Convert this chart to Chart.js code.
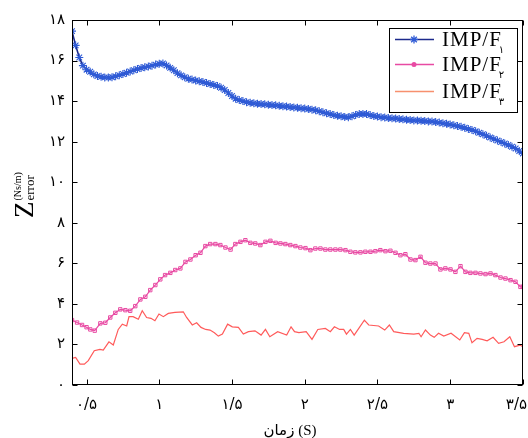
<!DOCTYPE html>
<html><head><meta charset="utf-8">
<script src="https://cdn.jsdelivr.net/npm/chart.js@4.4.1/dist/chart.umd.min.js"></script>
<style>html,body{margin:0;padding:0;background:#fff;overflow:hidden}</style>
</head><body>
<canvas id="c" width="528" height="438"></canvas>
<script>
// ---- data ----
const blueTime=[0.4,0.425,0.45,0.475,0.5,0.525,0.55,0.575,0.6,0.625,0.65,0.675,0.7,0.725,0.75,0.775,0.8,0.825,0.85,0.875,0.9,0.925,0.95,0.975,1.0,1.025,1.05,1.075,1.1,1.125,1.15,1.175,1.2,1.225,1.25,1.275,1.3,1.325,1.35,1.375,1.4,1.425,1.45,1.475,1.5,1.525,1.55,1.575,1.6,1.625,1.65,1.675,1.7,1.725,1.75,1.775,1.8,1.825,1.85,1.875,1.9,1.925,1.95,1.975,2.0,2.025,2.05,2.075,2.1,2.125,2.15,2.175,2.2,2.225,2.25,2.275,2.3,2.325,2.35,2.375,2.4,2.425,2.45,2.475,2.5,2.525,2.55,2.575,2.6,2.625,2.65,2.675,2.7,2.725,2.75,2.775,2.8,2.825,2.85,2.875,2.9,2.925,2.95,2.975,3.0,3.025,3.05,3.075,3.1,3.125,3.15,3.175,3.2,3.225,3.25,3.275,3.3,3.325,3.35,3.375,3.4,3.425,3.45,3.475,3.5];
const blueValue=[17.45,16.75,16.15,15.75,15.55,15.45,15.32,15.24,15.2,15.17,15.16,15.18,15.22,15.28,15.34,15.4,15.46,15.52,15.58,15.63,15.67,15.71,15.75,15.8,15.84,15.86,15.76,15.64,15.52,15.38,15.27,15.18,15.1,15.06,15.02,14.98,14.94,14.89,14.84,14.8,14.75,14.66,14.55,14.4,14.25,14.12,14.05,14.0,13.95,13.92,13.89,13.87,13.86,13.84,13.82,13.81,13.79,13.77,13.75,13.73,13.71,13.69,13.67,13.65,13.63,13.61,13.58,13.55,13.5,13.45,13.4,13.36,13.31,13.28,13.25,13.22,13.21,13.25,13.32,13.36,13.37,13.36,13.31,13.27,13.24,13.21,13.19,13.17,13.15,13.14,13.12,13.1,13.08,13.07,13.05,13.04,13.03,13.02,13.0,12.99,12.97,12.94,12.91,12.88,12.85,12.81,12.77,12.73,12.69,12.63,12.58,12.51,12.44,12.37,12.29,12.21,12.13,12.06,11.98,11.91,11.84,11.75,11.66,11.54,11.42];

const pinkTime=[0.4,0.435,0.469,0.5,0.526,0.556,0.595,0.629,0.663,0.698,0.732,0.767,0.8,0.835,0.87,0.904,0.938,0.973,1.007,1.04,1.076,1.11,1.145,1.18,1.214,1.25,1.283,1.317,1.35,1.386,1.42,1.455,1.49,1.523,1.558,1.592,1.626,1.66,1.695,1.73,1.764,1.8,1.833,1.867,1.901,1.936,1.97,2.005,2.039,2.073,2.108,2.142,2.176,2.211,2.245,2.28,2.314,2.348,2.383,2.417,2.452,2.486,2.52,2.555,2.589,2.624,2.658,2.692,2.727,2.761,2.796,2.83,2.864,2.899,2.933,2.967,3.002,3.036,3.071,3.105,3.139,3.174,3.208,3.243,3.277,3.311,3.346,3.38,3.415,3.449,3.483,3.5];
const pinkValue=[3.2,3.08,2.96,2.85,2.74,2.68,3.04,3.07,3.33,3.56,3.73,3.69,3.66,3.89,4.22,4.35,4.68,4.93,5.21,5.42,5.53,5.67,5.75,6.07,6.19,6.4,6.52,6.85,6.95,6.95,6.9,6.78,6.68,6.95,7.06,7.14,7.01,6.98,6.9,7.06,7.11,7.01,6.98,6.95,6.9,6.85,6.78,6.75,6.65,6.73,6.73,6.68,6.68,6.68,6.68,6.65,6.57,6.54,6.54,6.57,6.57,6.6,6.65,6.6,6.62,6.52,6.4,6.45,6.19,6.16,6.32,6.03,5.99,5.99,5.7,5.75,5.7,5.58,5.86,5.58,5.53,5.53,5.5,5.47,5.5,5.42,5.3,5.25,5.17,5.09,4.84,4.84];

const redTime=[0.4,0.425,0.455,0.485,0.512,0.553,0.592,0.615,0.654,0.684,0.718,0.746,0.776,0.792,0.82,0.856,0.883,0.913,0.943,0.97,0.998,1.028,1.062,1.108,1.165,1.188,1.227,1.257,1.287,1.319,1.349,1.379,1.406,1.434,1.47,1.502,1.544,1.578,1.613,1.658,1.7,1.73,1.76,1.814,1.876,1.906,1.93,1.96,2.01,2.05,2.09,2.142,2.176,2.204,2.24,2.268,2.287,2.314,2.34,2.41,2.44,2.508,2.55,2.582,2.612,2.68,2.75,2.785,2.8,2.83,2.864,2.89,2.92,2.956,3.006,3.066,3.098,3.128,3.15,3.185,3.22,3.254,3.295,3.333,3.37,3.41,3.442,3.48,3.5];
const redValue=[1.31,1.36,1.03,1.03,1.2,1.69,1.76,1.72,2.13,1.97,2.74,3.0,2.91,3.37,3.37,3.24,3.66,3.33,3.29,3.17,3.5,3.37,3.53,3.58,3.61,3.33,2.96,3.07,2.84,2.74,2.71,2.58,2.41,2.51,3.0,2.87,2.84,2.51,2.63,2.67,2.46,2.74,2.38,2.63,2.46,2.87,2.63,2.58,2.63,2.25,2.74,2.79,2.63,2.87,2.74,2.74,2.51,2.74,2.46,3.2,2.96,2.91,2.71,2.96,2.63,2.55,2.51,2.55,2.38,2.71,2.46,2.35,2.55,2.41,2.55,2.22,2.58,2.55,2.08,2.3,2.25,2.18,2.35,2.05,2.13,2.38,1.89,1.97,1.89];

const seriesNames=['IMP/F','IMP/F','IMP/F'];
const seriesSubs=['۱','۲','۳'];
const xTickValues=[0.5,1,1.5,2,2.5,3,3.5];
const xTickLabels=['۰/۵','۱','۱/۵','۲','۲/۵','۳','۳/۵'];
const yTickValues=[0,2,4,6,8,10,12,14,16,18];
const yTickLabels=['۰','۲','۴','۶','۸','۱۰','۱۲','۱۴','۱۶','۱۸'];
const xTitle='زمان (S)';

const pts=(t,v)=>t.map((x,i)=>({x:x,y:v[i]}));
const COLORS={blueLine:'#1c2a8c',blueMark:'#2f5bd6',pink:'#e84aa3',red:'#ff5a5a',redLegend:'#f7906e'};

const deco={
  id:'deco',
  afterDatasetsDraw(chart){
    const {ctx,chartArea:a,scales:{x,y}}=chart;
    const L=Math.round(a.left)+0.5,R=Math.round(a.right)-0.5,T=Math.round(a.top)+0.5,B=Math.round(a.bottom)-0.5;
    ctx.save();
    ctx.strokeStyle='#000';ctx.lineWidth=1;
    ctx.strokeRect(L,T,R-L,B-T);
    ctx.beginPath();
    const tl=5;
    xTickValues.forEach(v=>{const px=Math.round(x.getPixelForValue(v))+0.5;ctx.moveTo(px,B);ctx.lineTo(px,B-tl);ctx.moveTo(px,T);ctx.lineTo(px,T+tl);});
    yTickValues.forEach(v=>{const py=Math.round(y.getPixelForValue(v))+0.5;ctx.moveTo(L,py);ctx.lineTo(L+tl,py);ctx.moveTo(R,py);ctx.lineTo(R-tl,py);});
    ctx.stroke();
    // x tick labels
    ctx.fillStyle='#000';ctx.font='15px "DejaVu Sans"';ctx.textAlign='center';ctx.textBaseline='middle';
    xTickValues.forEach((v,i)=>{const w=ctx.measureText(xTickLabels[i]).width;let px=x.getPixelForValue(v);px=Math.min(px,chart.width-w/2-1);ctx.fillText(xTickLabels[i],px,405);});
    // x title
    ctx.font='15px "Liberation Serif","DejaVu Sans"';ctx.direction='ltr';
    ctx.fillText(xTitle,290,431);
    // y title
    ctx.save();ctx.translate(33,218);ctx.rotate(-Math.PI/2);
    ctx.textAlign='left';ctx.textBaseline='alphabetic';
    ctx.font='27px "Liberation Serif"';ctx.fillText('Z',0,0);
    const zw=ctx.measureText('Z').width;
    ctx.font='13px "Liberation Serif"';ctx.fillText('error',zw+1,1);
    ctx.font='10px "Liberation Serif"';ctx.fillText('(Ns/m)',zw+1,-12);
    ctx.restore();
    // legend
    ctx.fillStyle='#fff';ctx.fillRect(389,28,128,84);
    ctx.strokeStyle='#000';ctx.lineWidth=1;ctx.strokeRect(389.5,28.5,128,84);
    const rows=[39,64,91];
    const cols=[COLORS.blueLine,COLORS.pink,COLORS.redLegend];
    rows.forEach((ry,i)=>{
      ctx.strokeStyle=cols[i];ctx.lineWidth=1.3;ctx.beginPath();ctx.moveTo(395,ry+0.5);ctx.lineTo(434,ry+0.5);ctx.stroke();
      if(i===0){ctx.strokeStyle=COLORS.blueMark;Chart.helpers.drawPoint(ctx,{pointStyle:'star',radius:4,borderWidth:1.2},414,ry+0.5);}
      if(i===1){ctx.fillStyle=COLORS.pink;ctx.beginPath();ctx.arc(414,ry+0.5,2.5,0,Math.PI*2);ctx.fill();}
      ctx.fillStyle='#000';ctx.textAlign='left';ctx.textBaseline='alphabetic';
      ctx.font='21px "Liberation Serif"';
      ctx.letterSpacing='1px';
      ctx.fillText(seriesNames[i],442,ry+7);
      const w=ctx.measureText(seriesNames[i]).width;
      ctx.letterSpacing='0px';
      ctx.font='10px "DejaVu Sans"';ctx.fillText(seriesSubs[i],442+w-3,ry+14);
    });
    ctx.restore();
  }
};

new Chart(document.getElementById('c'),{
  type:'line',
  data:{datasets:[
    {label:'IMP/F1',data:pts(blueTime,blueValue),borderColor:COLORS.blueLine,borderWidth:1.6,pointStyle:'star',pointRadius:4,pointBorderColor:COLORS.blueMark,pointBorderWidth:1.1,pointBackgroundColor:COLORS.blueMark,tension:0},
    {label:'IMP/F2',data:pts(pinkTime,pinkValue),borderColor:COLORS.pink,borderWidth:1.2,pointStyle:'rect',pointRadius:2.4,pointBorderColor:COLORS.pink,pointBorderWidth:1,pointBackgroundColor:'rgba(255,255,255,0)',tension:0},
    {label:'IMP/F3',data:pts(redTime,redValue),borderColor:COLORS.red,borderWidth:1.2,pointRadius:0,tension:0}
  ]},
  options:{
    responsive:false,animation:false,devicePixelRatio:1,
    layout:{padding:{top:20,right:5,left:0,bottom:0}},
    plugins:{legend:{display:false},tooltip:{enabled:false}},
    scales:{
      x:{type:'linear',min:0.4,max:3.5,
        afterBuildTicks:s=>{s.ticks=xTickValues.map(v=>({value:v}));},
        ticks:{display:false},grid:{display:false,drawTicks:false},border:{display:false},
        afterFit:s=>{s.height=53;s.paddingLeft=0;s.paddingRight=0;}},
      y:{type:'linear',min:0,max:18,
        afterBuildTicks:s=>{s.ticks=yTickValues.map(v=>({value:v}));},
        ticks:{color:'#000',padding:7,font:{family:'DejaVu Sans',size:15},callback:(v,i)=>yTickLabels[i]},
        grid:{display:false,drawTicks:false},border:{display:false},
        afterFit:s=>{s.width=72;s.paddingTop=0;s.paddingBottom=0;}}
    }
  },
  plugins:[deco]
});
</script>
</body></html>
